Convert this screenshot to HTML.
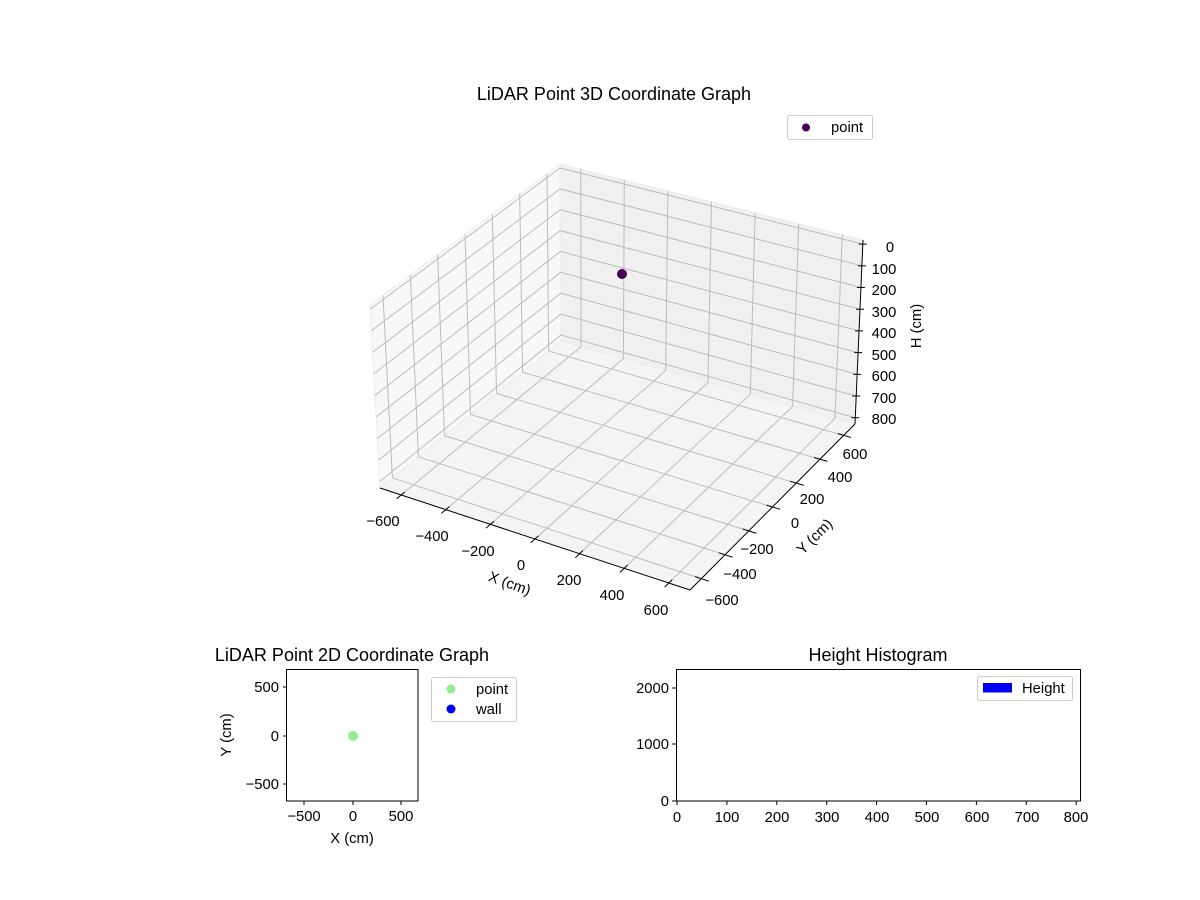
<!DOCTYPE html>
<html><head><meta charset="utf-8"><style>
body{margin:0;background:#fff}
svg{display:block;font-family:"Liberation Sans","DejaVu Sans",sans-serif;font-size:14.8px}
</style></head><body>
<svg id="s" width="1200" height="900" viewBox="0 0 1200 900" xmlns="http://www.w3.org/2000/svg">
<rect width="1200" height="900" fill="#fff"/>
<g id="g3d"></g>
<circle cx="622" cy="274" r="5" fill="#440154"/>
<text x="614" y="100" text-anchor="middle" font-size="18">LiDAR Point 3D Coordinate Graph</text>
<rect x="787.5" y="115.5" width="85" height="24" rx="2" fill="#fff" stroke="#ccc"/>
<circle cx="806" cy="127.5" r="4" fill="#440154"/>
<text x="831" y="132">point</text>
<g text-anchor="middle">
<text x="383" y="526">−600</text><text x="432" y="541">−400</text><text x="478" y="556">−200</text>
<text x="521" y="570">0</text><text x="569" y="585">200</text><text x="612" y="600">400</text><text x="656" y="615">600</text>
<text x="722" y="605">−600</text><text x="740" y="579">−400</text><text x="757" y="554">−200</text>
<text x="795" y="528">0</text><text x="812" y="504">200</text><text x="840" y="482">400</text><text x="855" y="459">600</text>
</g>
<text transform="translate(508,588) rotate(20)" text-anchor="middle">X (cm)</text>
<text transform="translate(818,540) rotate(-45)" text-anchor="middle">Y (cm)</text>
<g text-anchor="middle">
<text x="890" y="252">0</text><text x="884" y="274">100</text><text x="884" y="295">200</text><text x="884" y="317">300</text>
<text x="884" y="338">400</text><text x="884" y="360">500</text><text x="884" y="381">600</text><text x="884" y="403">700</text><text x="884" y="424">800</text>
</g>
<text transform="translate(921,326) rotate(-90)" text-anchor="middle">H (cm)</text>

<!-- 2D -->
<text x="352" y="661" text-anchor="middle" font-size="18">LiDAR Point 2D Coordinate Graph</text>
<rect x="286.5" y="669.5" width="131.5" height="131.5" fill="none" stroke="#000" stroke-width="1"/>
<circle cx="353" cy="736" r="5" fill="#90ee90"/>
<g stroke="#000"><line x1="304" y1="801" x2="304" y2="805"/><line x1="353" y1="801" x2="353" y2="805"/><line x1="401" y1="801" x2="401" y2="805"/>
<line x1="283" y1="687" x2="287" y2="687"/><line x1="283" y1="736" x2="287" y2="736"/><line x1="283" y1="784" x2="287" y2="784"/></g>
<g text-anchor="middle"><text x="304" y="821">−500</text><text x="353" y="821">0</text><text x="401" y="821">500</text></g>
<g text-anchor="end"><text x="279" y="692">500</text><text x="279" y="741">0</text><text x="279" y="789">−500</text></g>
<text x="352" y="843" text-anchor="middle">X (cm)</text>
<text transform="translate(231,735) rotate(-90)" text-anchor="middle">Y (cm)</text>
<rect x="431.5" y="677.5" width="85" height="44" rx="2" fill="#fff" stroke="#ccc"/>
<circle cx="451" cy="689" r="4.5" fill="#90ee90"/><circle cx="451" cy="709" r="4.5" fill="#0000ff"/>
<text x="476" y="694">point</text><text x="476" y="714">wall</text>

<!-- hist -->
<text x="878" y="661" text-anchor="middle" font-size="18">Height Histogram</text>
<rect x="676.5" y="669.5" width="404" height="131.5" fill="none" stroke="#000"/>
<g id="ht" stroke="#000"></g>
<g text-anchor="middle"><text x="677" y="822">0</text><text x="727" y="822">100</text><text x="777" y="822">200</text><text x="827" y="822">300</text><text x="877" y="822">400</text><text x="927" y="822">500</text><text x="977" y="822">600</text><text x="1027" y="822">700</text><text x="1076" y="822">800</text></g>
<g text-anchor="end"><text x="669" y="806">0</text><text x="669" y="749">1000</text><text x="669" y="693">2000</text></g>
<rect x="977.5" y="676.5" width="95" height="24" rx="2" fill="#fff" stroke="#ccc"/>
<rect x="983" y="683" width="29" height="9.5" fill="#0000ff"/>
<text x="1022" y="693">Height</text>
</svg>
<script>
(function(){
var ns="http://www.w3.org/2000/svg",g=document.getElementById('g3d');
var C={'000':[370,305],'001':[380,488],'100':[689,402],'101':[690,590],'110':[863,240],'111':[855,424],'010':[560,164],'011':[561,341]};
function P(u,v,w){var r=[0,0];for(var a=0;a<2;a++)for(var b=0;b<2;b++)for(var c=0;c<2;c++){var k=(a?u:1-u)*(b?v:1-v)*(c?w:1-w);var p=C[''+a+b+c];r[0]+=k*p[0];r[1]+=k*p[1];}return r;}
function U(x){return (x+695)/1390}function W(z){return (z+19)/848}
function poly(pts,f){var e=document.createElementNS(ns,'polygon');e.setAttribute('points',pts.map(function(p){return p.join(',')}).join(' '));e.setAttribute('fill',f);e.setAttribute('stroke','#ececec');e.setAttribute('stroke-width','1');g.appendChild(e);}
function ln(a,b,c,w){var e=document.createElementNS(ns,'line');e.setAttribute('x1',a[0]);e.setAttribute('y1',a[1]);e.setAttribute('x2',b[0]);e.setAttribute('y2',b[1]);e.setAttribute('stroke',c);e.setAttribute('stroke-width',w);g.appendChild(e);}
poly([P(0,0,0),P(0,1,0),P(0,1,1),P(0,0,1)],'#f8f8f8');
poly([P(0,1,0),P(1,1,0),P(1,1,1),P(0,1,1)],'#f0f0f0');
poly([P(0,0,1),P(1,0,1),P(1,1,1),P(0,1,1)],'#f4f4f4');
var gc='#bcbcbc';
for(var t=-600;t<=600;t+=200){var u=U(t);
 ln(P(u,0,1),P(u,1,1),gc,1);ln(P(u,1,1),P(u,1,0),gc,1);
 ln(P(0,u,1),P(1,u,1),gc,1);ln(P(0,u,1),P(0,u,0),gc,1);
 ln(P(u,-0.025,1),P(u,0.02,1),'#000',1);ln(P(0.98,u,1),P(1.025,u,1),'#000',1);}
for(var z=0;z<=800;z+=100){var w=W(z);
 ln(P(0,0,w),P(0,1,w),gc,1);ln(P(0,1,w),P(1,1,w),gc,1);
 var a=P(1,1,w);ln([a[0]-4,a[1]],[a[0]+4,a[1]],'#000',1);}
ln(P(0,0,1),P(1,0,1),'#000',1);ln(P(1,0,1),P(1,1,1),'#000',1);ln(P(1,1,1),P(1,1,0),'#000',1);
var h=document.getElementById('ht');
for(var i=0;i<=8;i++){var x=677+i*49.9;var e=document.createElementNS(ns,'line');e.setAttribute('x1',x);e.setAttribute('x2',x);e.setAttribute('y1',801);e.setAttribute('y2',805);h.appendChild(e);}
[801,744,688].forEach(function(y){var e=document.createElementNS(ns,'line');e.setAttribute('x1',672);e.setAttribute('x2',677);e.setAttribute('y1',y);e.setAttribute('y2',y);h.appendChild(e);});
})();
</script>
</body></html>
